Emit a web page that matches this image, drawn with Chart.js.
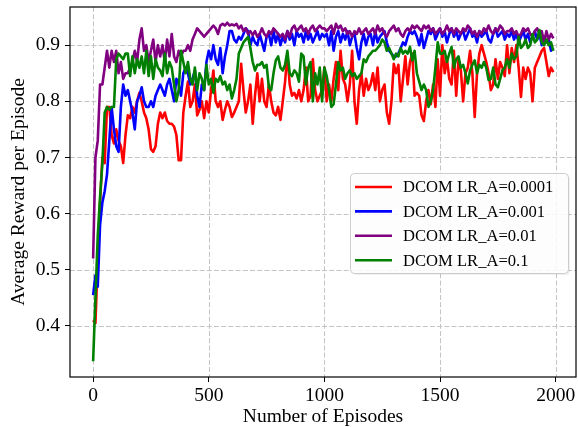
<!DOCTYPE html>
<html>
<head>
<meta charset="utf-8">
<script src="https://cdn.jsdelivr.net/npm/chart.js@4.4.1/dist/chart.umd.min.js"></script>
<style>
  html, body { margin: 0; padding: 0; background: #fff; }
  #wrap { width: 578px; height: 427px; }
</style>
</head>
<body>
<div id="wrap"><canvas id="chart" width="578" height="427"></canvas></div>
<script>
// episodes are sampled every 10 steps
const episodes = Array.from({ length: 200 }, (_, i) => i * 10);

const seriesNames = ['DCOM LR_A=0.0001', 'DCOM LR_A=0.001', 'DCOM LR_A=0.01', 'DCOM LR_A=0.1'];

const lrRed = [
  0.41, 0.405, 0.52, 0.62, 0.70, 0.69, 0.79, 0.79, 0.74, 0.725, 0.75, 0.73, 0.72, 0.69, 0.74, 0.775, 0.77, 0.79, 0.78, 0.80,
  0.815, 0.80, 0.78, 0.77, 0.75, 0.715, 0.71, 0.72, 0.76, 0.78, 0.77, 0.78, 0.765, 0.76, 0.76, 0.755, 0.74, 0.695, 0.695, 0.78,
  0.81, 0.835, 0.79, 0.80, 0.83, 0.775, 0.785, 0.80, 0.77, 0.80, 0.78, 0.82, 0.855, 0.80, 0.79, 0.80, 0.767, 0.785, 0.80, 0.79,
  0.772, 0.78, 0.79, 0.80, 0.867, 0.82, 0.78, 0.80, 0.83, 0.76, 0.81, 0.85, 0.80, 0.84, 0.80, 0.79, 0.83, 0.80, 0.78, 0.775,
  0.79, 0.767, 0.80, 0.835, 0.885, 0.83, 0.81, 0.815, 0.805, 0.82, 0.80, 0.82, 0.86, 0.80, 0.81, 0.875, 0.82, 0.80, 0.81, 0.82,
  0.86, 0.80, 0.83, 0.80, 0.84, 0.87, 0.82, 0.89, 0.84, 0.83, 0.80, 0.83, 0.89, 0.80, 0.76, 0.82, 0.85, 0.81, 0.84, 0.82,
  0.83, 0.85, 0.82, 0.86, 0.80, 0.82, 0.83, 0.78, 0.76, 0.80, 0.867, 0.85, 0.865, 0.80, 0.84, 0.88, 0.83, 0.87, 0.885, 0.81,
  0.815, 0.81, 0.775, 0.765, 0.80, 0.82, 0.795, 0.83, 0.79, 0.875, 0.81, 0.90, 0.85, 0.875, 0.84, 0.83, 0.89, 0.81, 0.875, 0.855,
  0.80, 0.85, 0.86, 0.89, 0.85, 0.772, 0.85, 0.885, 0.90, 0.885, 0.87, 0.85, 0.82, 0.83, 0.875, 0.84, 0.87, 0.86, 0.845, 0.90,
  0.85, 0.895, 0.87, 0.90, 0.86, 0.808, 0.86, 0.84, 0.86, 0.85, 0.80, 0.86, 0.87, 0.88, 0.89, 0.895, 0.87, 0.845, 0.86, 0.852
];

const lrBlue = [
  0.455, 0.49, 0.47, 0.58, 0.62, 0.64, 0.67, 0.73, 0.79, 0.75, 0.72, 0.71, 0.79, 0.83, 0.81, 0.82, 0.80, 0.78, 0.75, 0.80,
  0.81, 0.825, 0.80, 0.79, 0.79, 0.80, 0.79, 0.81, 0.82, 0.83, 0.82, 0.81, 0.83, 0.84, 0.82, 0.80, 0.84, 0.83, 0.81, 0.85,
  0.86, 0.85, 0.83, 0.84, 0.855, 0.81, 0.79, 0.83, 0.82, 0.87, 0.89, 0.875, 0.90, 0.875, 0.865, 0.895, 0.85, 0.88, 0.90, 0.925,
  0.925, 0.91, 0.905, 0.915, 0.91, 0.92, 0.93, 0.925, 0.90, 0.915, 0.905, 0.90, 0.92, 0.905, 0.89, 0.915, 0.92, 0.90, 0.925, 0.905,
  0.92, 0.90, 0.915, 0.905, 0.925, 0.91, 0.92, 0.90, 0.925, 0.915, 0.92, 0.905, 0.925, 0.91, 0.92, 0.905, 0.915, 0.925, 0.91, 0.92,
  0.915, 0.92, 0.90, 0.925, 0.89, 0.915, 0.925, 0.905, 0.92, 0.91, 0.925, 0.90, 0.915, 0.92, 0.895, 0.875, 0.905, 0.92, 0.90, 0.915,
  0.92, 0.90, 0.925, 0.905, 0.915, 0.92, 0.925, 0.905, 0.89, 0.885, 0.88, 0.88, 0.885, 0.895, 0.905, 0.90, 0.915, 0.925, 0.92, 0.925,
  0.915, 0.90, 0.92, 0.895, 0.91, 0.925, 0.92, 0.93, 0.91, 0.92, 0.93, 0.915, 0.925, 0.905, 0.92, 0.93, 0.915, 0.925, 0.91, 0.92,
  0.925, 0.91, 0.92, 0.93, 0.915, 0.92, 0.905, 0.925, 0.915, 0.92, 0.925, 0.91, 0.905, 0.92, 0.93, 0.915, 0.92, 0.925, 0.91, 0.92,
  0.915, 0.925, 0.91, 0.92, 0.905, 0.915, 0.925, 0.91, 0.92, 0.905, 0.915, 0.925, 0.91, 0.92, 0.90, 0.915, 0.905, 0.91, 0.89, 0.895
];

const lrPurple = [
  0.52, 0.70, 0.73, 0.83, 0.83, 0.86, 0.89, 0.86, 0.89, 0.87, 0.89, 0.85, 0.87, 0.84, 0.85, 0.85, 0.86, 0.87, 0.89, 0.87,
  0.91, 0.93, 0.89, 0.90, 0.87, 0.89, 0.91, 0.87, 0.90, 0.88, 0.90, 0.87, 0.91, 0.88, 0.92, 0.88, 0.87, 0.89, 0.88, 0.89,
  0.89, 0.90, 0.89, 0.91, 0.92, 0.93, 0.925, 0.92, 0.915, 0.92, 0.925, 0.93, 0.935, 0.93, 0.92, 0.935, 0.938, 0.935, 0.94, 0.935,
  0.937, 0.935, 0.938, 0.93, 0.935, 0.925, 0.93, 0.92, 0.925, 0.918, 0.925, 0.915, 0.92, 0.93, 0.92, 0.915, 0.925, 0.92, 0.93, 0.925,
  0.92, 0.915, 0.92, 0.91, 0.925, 0.915, 0.93, 0.935, 0.925, 0.93, 0.935, 0.925, 0.93, 0.92, 0.93, 0.935, 0.925, 0.93, 0.935, 0.93,
  0.93, 0.925, 0.93, 0.935, 0.92, 0.938, 0.93, 0.935, 0.925, 0.93, 0.92, 0.925, 0.915, 0.925, 0.92, 0.93, 0.92, 0.925, 0.93, 0.92,
  0.925, 0.93, 0.92, 0.935, 0.925, 0.93, 0.92, 0.915, 0.925, 0.93, 0.935, 0.925, 0.93, 0.92, 0.915, 0.925, 0.93, 0.925, 0.935, 0.93,
  0.935, 0.93, 0.925, 0.935, 0.93, 0.935, 0.925, 0.93, 0.92, 0.925, 0.93, 0.92, 0.925, 0.935, 0.925, 0.93, 0.92, 0.93, 0.925, 0.92,
  0.93, 0.925, 0.935, 0.93, 0.92, 0.925, 0.915, 0.925, 0.92, 0.93, 0.925, 0.935, 0.925, 0.92, 0.93, 0.925, 0.935, 0.93, 0.92, 0.925,
  0.925, 0.93, 0.92, 0.925, 0.915, 0.92, 0.93, 0.925, 0.93, 0.92, 0.915, 0.925, 0.93, 0.92, 0.925, 0.905, 0.925, 0.91, 0.92, 0.912
];

const lrGreen = [
  0.337, 0.45, 0.56, 0.63, 0.69, 0.78, 0.79, 0.785, 0.79, 0.79, 0.875, 0.885, 0.88, 0.875, 0.885, 0.885, 0.845, 0.88, 0.85, 0.875,
  0.86, 0.88, 0.85, 0.89, 0.845, 0.88, 0.84, 0.875, 0.86, 0.855, 0.845, 0.885, 0.85, 0.87, 0.86, 0.83, 0.80, 0.82, 0.89, 0.87,
  0.85, 0.87, 0.84, 0.83, 0.86, 0.82, 0.85, 0.84, 0.82, 0.865, 0.83, 0.84, 0.815, 0.84, 0.835, 0.845, 0.83, 0.835, 0.82, 0.83,
  0.805, 0.82, 0.84, 0.885, 0.895, 0.905, 0.91, 0.915, 0.895, 0.87, 0.855, 0.865, 0.865, 0.87, 0.86, 0.865, 0.825, 0.82, 0.85, 0.873,
  0.88, 0.86, 0.855, 0.865, 0.89, 0.85, 0.845, 0.855, 0.85, 0.835, 0.885, 0.88, 0.83, 0.86, 0.87, 0.80, 0.85, 0.83, 0.86, 0.80,
  0.86, 0.845, 0.82, 0.79, 0.795, 0.83, 0.87, 0.855, 0.86, 0.84, 0.85, 0.855, 0.845, 0.85, 0.84, 0.845, 0.85, 0.875, 0.87, 0.88,
  0.885, 0.89, 0.89, 0.895, 0.90, 0.91, 0.905, 0.89, 0.895, 0.885, 0.875, 0.885, 0.88, 0.895, 0.885, 0.89, 0.885, 0.897, 0.873, 0.89,
  0.85, 0.835, 0.82, 0.83, 0.82, 0.79, 0.80, 0.82, 0.86, 0.905, 0.885, 0.885, 0.89, 0.87, 0.885, 0.897, 0.86, 0.875, 0.88, 0.86,
  0.865, 0.85, 0.832, 0.855, 0.865, 0.873, 0.85, 0.865, 0.86, 0.87, 0.86, 0.838, 0.84, 0.86, 0.83, 0.825, 0.84, 0.855, 0.86, 0.875,
  0.86, 0.885, 0.875, 0.88, 0.915, 0.895, 0.90, 0.91, 0.895, 0.90, 0.92, 0.905, 0.91, 0.927, 0.905, 0.90, 0.91, 0.90, 0.905, 0.89
];

const xTicks = [0, 500, 1000, 1500, 2000];
const yTicks = [0.4, 0.5, 0.6, 0.7, 0.8, 0.9];

const serif = "'Liberation Serif', 'Times New Roman', serif";

function toPoints(values) {
  return values.map((v, i) => ({ x: episodes[i], y: v }));
}

function lineSet(label, values, color, order) {
  return {
    label: label,
    data: toPoints(values),
    borderColor: color,
    backgroundColor: color,
    borderWidth: 2.6,
    borderJoinStyle: 'round',
    pointRadius: 0,
    tension: 0,
    order: order
  };
}

// dashed grey grid under the lines
const dashedGrid = {
  id: 'dashedGrid',
  beforeDatasetsDraw(chart) {
    const { ctx, chartArea: a, scales } = chart;
    ctx.save();
    ctx.strokeStyle = '#c4c4c4';
    ctx.lineWidth = 1;
    ctx.setLineDash([5, 2.2]);
    xTicks.forEach((v) => {
      const px = Math.round(scales.x.getPixelForValue(v)) + 0.5;
      ctx.beginPath();
      ctx.moveTo(px, a.top);
      ctx.lineTo(px, a.bottom);
      ctx.stroke();
    });
    yTicks.forEach((v) => {
      const py = Math.round(scales.y.getPixelForValue(v)) + 0.5;
      ctx.beginPath();
      ctx.moveTo(a.left, py);
      ctx.lineTo(a.right, py);
      ctx.stroke();
    });
    ctx.restore();
  }
};

// matplotlib style box around the plot area
const frame = {
  id: 'frame',
  afterDatasetsDraw(chart) {
    const { ctx, chartArea: a } = chart;
    ctx.save();
    ctx.strokeStyle = '#000';
    ctx.lineWidth = 1.2;
    ctx.strokeRect(a.left, a.top, a.right - a.left, a.bottom - a.top);
    ctx.restore();
  }
};

// legend box sitting inside the plot, right side
const boxLegend = {
  id: 'boxLegend',
  afterDraw(chart) {
    const ctx = chart.ctx;
    const x = 350, y = 173, w = 218, h = 100, r = 4;
    ctx.save();
    ctx.fillStyle = 'rgba(0,0,0,0.06)';
    ctx.beginPath();
    ctx.roundRect(x + 2, y + 2, w, h, r);
    ctx.fill();
    ctx.fillStyle = 'rgba(255,255,255,0.85)';
    ctx.strokeStyle = '#cccccc';
    ctx.lineWidth = 1;
    ctx.beginPath();
    ctx.roundRect(x + 0.5, y + 0.5, w, h, r);
    ctx.fill();
    ctx.stroke();

    ctx.font = '16.6px ' + serif;
    ctx.textBaseline = 'middle';
    ctx.textAlign = 'left';
    chart.data.datasets.forEach((ds, i) => {
      const ly = 187 + i * 24.4;
      ctx.strokeStyle = ds.borderColor;
      ctx.lineWidth = 2.6;
      ctx.beginPath();
      ctx.moveTo(355, ly);
      ctx.lineTo(392, ly);
      ctx.stroke();
      ctx.fillStyle = '#000';
      ctx.fillText(ds.label, 403, ly + 1);
    });
    ctx.restore();
  }
};

const tickGrid = {
  drawOnChartArea: false,
  tickColor: '#000',
  tickWidth: 1,
  tickLength: 5
};

new Chart(document.getElementById('chart'), {
  type: 'line',
  data: {
    datasets: [
      lineSet(seriesNames[0], lrRed, '#ff0000', 4),
      lineSet(seriesNames[1], lrBlue, '#0000ff', 3),
      lineSet(seriesNames[2], lrPurple, '#800080', 2),
      lineSet(seriesNames[3], lrGreen, '#008000', 1)
    ]
  },
  options: {
    responsive: false,
    animation: false,
    events: [],
    layout: { padding: { top: 7, right: 2, left: 0, bottom: 0 } },
    plugins: {
      legend: { display: false },
      tooltip: { enabled: false }
    },
    scales: {
      x: {
        type: 'linear',
        min: -100,
        max: 2088,
        afterFit: (s) => { s.height = 50; s.paddingLeft = 0; s.paddingRight = 0; },
        afterBuildTicks: (s) => { s.ticks = xTicks.map((v) => ({ value: v })); },
        grid: tickGrid,
        border: { display: false },
        ticks: {
          color: '#000',
          padding: 2,
          maxRotation: 0,
          autoSkip: false,
          font: { family: serif, size: 19.5, lineHeight: 1.2 },
          callback: (v) => String(v)
        },
        title: {
          display: true,
          text: 'Number of Episodes',
          color: '#000',
          padding: { top: 0, bottom: 0 },
          font: { family: serif, size: 19.5, lineHeight: 1.05 }
        }
      },
      y: {
        min: 0.309,
        max: 0.968,
        afterFit: (s) => { s.width = 70; s.paddingTop = 0; s.paddingBottom = 0; },
        afterBuildTicks: (s) => { s.ticks = yTicks.map((v) => ({ value: v })); },
        grid: tickGrid,
        border: { display: false },
        ticks: {
          color: '#000',
          padding: 5,
          autoSkip: false,
          font: { family: serif, size: 19.5, lineHeight: 1.2 },
          callback: (v) => v.toFixed(1)
        },
        title: {
          display: true,
          text: 'Average Reward per Episode',
          color: '#000',
          padding: { top: 8.8, bottom: 0 },
          font: { family: serif, size: 19.5, lineHeight: 1.05 }
        }
      }
    }
  },
  plugins: [dashedGrid, frame, boxLegend]
});
</script>
</body>
</html>
